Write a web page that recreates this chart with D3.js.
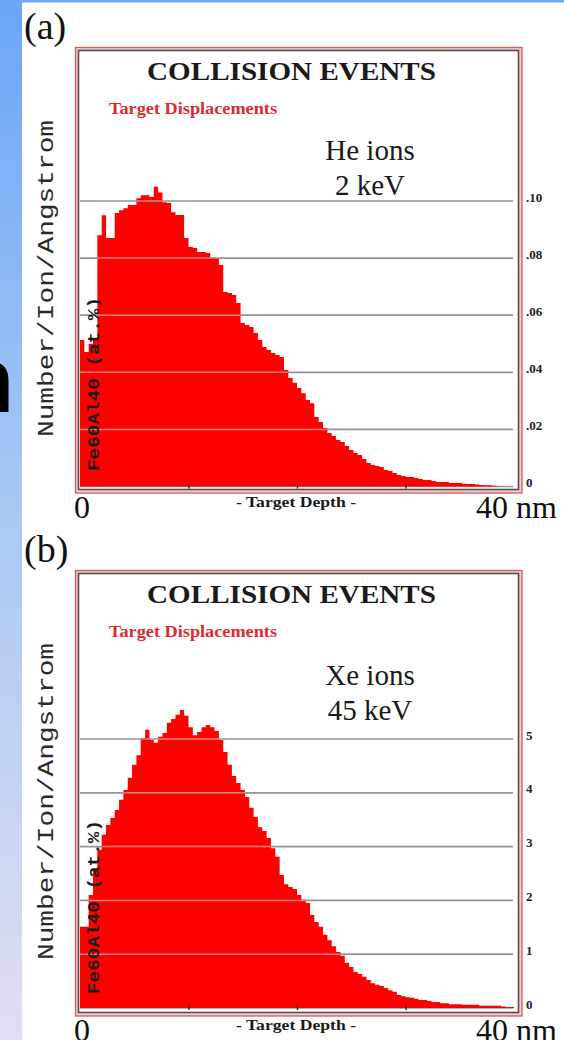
<!DOCTYPE html>
<html><head><meta charset="utf-8">
<script src="https://cdn.jsdelivr.net/npm/d3@7"></script>
<style>html,body{margin:0;padding:0;background:#fff;} svg{display:block}</style>
</head><body>
<svg id="c" width="564" height="1040"></svg>
<script>
// ---------------- data ----------------
const panelLabels = ["(a)", "(b)"];
const chartTitle = "COLLISION EVENTS";
const subTitle = "Target Displacements";
const ionLabels = ["He ions", "Xe ions"];
const energyLabels = ["2 keV", "45 keV"];
const yAxisLabel = "Number/Ion/Angstrom";
const targetLabel = "Fe60Al40 (at.%)";
const xAxisLabel = "- Target Depth -";
const xStartLabel = "0";
const xEndLabel = "40 nm";
const depthDomain = [0, 40];
const xTicks = [10, 20, 30];

// displacements per 0.4 nm bin (100 bins), He 2 keV
const heDisplacements = [
 0.0513,0.0471,0.0500,0.0520,0.0880,0.0950,0.0870,0.0870,0.0958,0.0968,
 0.0975,0.0986,0.0986,0.1010,0.1020,0.1020,0.1014,0.1050,0.1030,0.0996,
 0.0993,0.0961,0.0951,0.0951,0.0870,0.0839,0.0835,0.0821,0.0821,0.0818,
 0.0800,0.0800,0.0776,0.0681,0.0678,0.0671,0.0643,0.0573,0.0566,0.0559,
 0.0538,0.0513,0.0489,0.0478,0.0468,0.0461,0.0454,0.0408,0.0380,0.0363,
 0.0345,0.0327,0.0303,0.0292,0.0243,0.0226,0.0205,0.0187,0.0177,0.0163,
 0.0156,0.0142,0.0128,0.0117,0.0110,0.0096,0.0082,0.0075,0.0072,0.0068,
 0.0058,0.0054,0.0047,0.0040,0.0037,0.0033,0.0033,0.0030,0.0026,0.0023,
 0.0023,0.0019,0.0016,0.0016,0.0016,0.0012,0.0012,0.0012,0.0010,0.0009,
 0.0009,0.0007,0.0005,0.0004,0.0004,0.0003,0,0,0,0
];
// displacements per 0.4 nm bin (100 bins), Xe 45 keV
const xeDisplacements = [
 1.51,1.51,2.10,2.57,2.94,3.22,3.40,3.53,3.68,3.87,
 4.05,4.28,4.52,4.70,5.02,5.17,4.98,4.93,5.04,5.11,
 5.30,5.37,5.45,5.54,5.43,5.22,5.07,5.13,5.22,5.26,
 5.22,5.15,4.98,4.76,4.52,4.31,4.18,4.05,3.92,3.72,
 3.55,3.36,3.29,3.16,2.97,2.81,2.47,2.30,2.25,2.21,
 2.10,2.01,1.95,1.73,1.60,1.51,1.36,1.26,1.15,1.04,
 0.97,0.84,0.76,0.67,0.63,0.58,0.52,0.46,0.43,0.41,
 0.37,0.33,0.30,0.24,0.22,0.20,0.19,0.17,0.15,0.15,
 0.13,0.11,0.11,0.09,0.09,0.07,0.07,0.07,0.06,0.06,
 0.06,0.06,0.04,0.04,0.04,0.04,0.04,0.03,0.02,0.02
];
const heTicks = [0, 0.02, 0.04, 0.06, 0.08, 0.10];
const heTickLabels = ["0", ".02", ".04", ".06", ".08", ".10"];
const xeTicks = [0, 1, 2, 3, 4, 5];
const xeTickLabels = ["0", "1", "2", "3", "4", "5"];

// ---------------- drawing ----------------
const svg = d3.select("#c");
const defs = svg.append("defs");
const grad = defs.append("linearGradient").attr("id","side").attr("x1",0).attr("y1",0).attr("x2",0).attr("y2",1);
grad.append("stop").attr("offset","0%").attr("stop-color","#6aa5f7");
grad.append("stop").attr("offset","45%").attr("stop-color","#a3c6f3");
grad.append("stop").attr("offset","100%").attr("stop-color","#e0def2");

svg.append("rect").attr("x",0).attr("y",0).attr("width",564).attr("height",1040).attr("fill","#fff");
svg.append("rect").attr("x",0).attr("y",0).attr("width",22).attr("height",1040).attr("fill","url(#side)");
svg.append("rect").attr("x",0).attr("y",0).attr("width",564).attr("height",2.5).attr("fill","#6fa8f8");
svg.append("text").attr("x",-42).attr("y",412).attr("font-family","Liberation Sans").attr("font-weight","bold")
  .attr("font-size",92).attr("fill","#000").text("n");

const serif = "Liberation Serif";
const panels = [
  {dy:0, values:heDisplacements, ticks:heTicks, tickLabels:heTickLabels, y0:486.5, yTop:201, i:0},
  {dy:523, values:xeDisplacements, ticks:xeTicks, tickLabels:xeTickLabels, y0:1008, yTop:739, i:1}
];

panels.forEach(p => {
  const g = svg.append("g");
  const dy = p.dy;
  // panel label
  g.append("text").attr("x",24).attr("y",39+dy).attr("font-family",serif).attr("font-size",38)
    .attr("fill","#111").text(panelLabels[p.i]);
  // frame
  g.append("rect").attr("x",75.5).attr("y",47.5+dy).attr("width",446.5).attr("height",445.5)
    .attr("fill","#f4cccc").attr("stroke","#d65a5a").attr("stroke-width",1.3);
  g.append("rect").attr("x",78.5).attr("y",50.5+dy).attr("width",440).attr("height",439)
    .attr("fill","#fff").attr("stroke","#505050").attr("stroke-width",1.6);

  const x = d3.scaleLinear().domain(depthDomain).range([80, 514]);
  const y = d3.scaleLinear().domain([p.ticks[0], p.ticks[p.ticks.length-1]]).range([p.y0, p.yTop]);
  const binW = (depthDomain[1]-depthDomain[0]) / p.values.length;
  const pts = p.values.map((v,k)=>({d:k*binW, v}));
  pts.push({d:depthDomain[1], v:p.values[p.values.length-1]});

  // gridlines under
  const grid = g.append("g");
  grid.selectAll("line").data(p.ticks).join("line")
    .attr("x1",80).attr("x2",513).attr("y1",d=>y(d)).attr("y2",d=>y(d))
    .attr("stroke","#959595").attr("stroke-width",1.7);

  const area = d3.area().curve(d3.curveStepAfter).x(d=>x(d.d)).y0(y(0)).y1(d=>y(d.v));
  const clipId = "clip"+p.i;
  defs.append("clipPath").attr("id",clipId).append("path").attr("d",area(pts));
  g.append("path").attr("d",area(pts)).attr("fill","#ff0000");
  // gridlines seen through the fill
  g.append("g").attr("clip-path",`url(#${clipId})`).selectAll("line").data(p.ticks.slice(1)).join("line")
    .attr("x1",80).attr("x2",513).attr("y1",d=>y(d)).attr("y2",d=>y(d))
    .attr("stroke","#e98080").attr("stroke-width",1.5);

  // x ticks
  const xa = g.append("g").attr("transform",`translate(0,${p.y0+2})`)
    .call(d3.axisTop(x).tickValues(xTicks).tickSize(5).tickFormat(""));
  xa.select(".domain").remove();
  xa.selectAll("line").attr("stroke","#333").attr("stroke-width",1.5);

  // right axis labels
  const ya = g.append("g").attr("transform",`translate(522,-4)`)
    .call(d3.axisRight(y).tickValues(p.ticks).tickSize(0).tickPadding(4)
      .tickFormat((d,k)=>p.tickLabels[k]));
  ya.select(".domain").remove();
  ya.selectAll("text").attr("font-family",serif).attr("font-weight","bold").attr("font-size",13).attr("fill","#222");

  // titles
  g.append("text").attr("x",147).attr("y",80+dy).attr("font-family",serif).attr("font-weight","bold")
    .attr("font-size",25).attr("fill","#1a1a1a").attr("textLength",289).attr("lengthAdjust","spacingAndGlyphs").text(chartTitle);
  g.append("text").attr("x",109).attr("y",114+dy).attr("font-family",serif).attr("font-weight","bold")
    .attr("font-size",16.5).attr("fill","#dd2a30").attr("textLength",168).attr("lengthAdjust","spacingAndGlyphs").text(subTitle);
  const tdy = p.i===0 ? 0 : 2;
  g.append("text").attr("x",370).attr("y",160+dy+tdy).attr("text-anchor","middle").attr("font-family",serif)
    .attr("font-size",29).attr("fill","#1a1a1a").text(ionLabels[p.i]);
  g.append("text").attr("x",370).attr("y",195+dy+tdy).attr("text-anchor","middle").attr("font-family",serif)
    .attr("font-size",29).attr("fill","#1a1a1a").text(energyLabels[p.i]);

  // y-axis label (left, rotated)
  g.append("text").attr("transform",`translate(53,${437+dy}) rotate(-90)`).attr("font-family","Liberation Mono")
    .attr("font-size",22).attr("fill","#2a2a2a").attr("textLength",317).attr("lengthAdjust","spacingAndGlyphs").text(yAxisLabel);
  // target label (inside plot)
  g.append("text").attr("transform",`translate(99,${471+dy}) rotate(-90)`).attr("font-family","Liberation Mono")
    .attr("font-weight","bold").attr("font-size",17).attr("fill","#1a1a1a")
    .attr("textLength",174).attr("lengthAdjust","spacingAndGlyphs").text(targetLabel);

  // bottom labels
  g.append("text").attr("x",74).attr("y",518+dy).attr("font-family",serif).attr("font-size",32).attr("fill","#111").text(xStartLabel);
  g.append("text").attr("x",476).attr("y",518+dy).attr("font-family",serif).attr("font-size",32).attr("fill","#111").text(xEndLabel);
  g.append("text").attr("x",296).attr("y",507+dy).attr("text-anchor","middle").attr("font-family",serif)
    .attr("font-weight","bold").attr("font-size",15).attr("fill","#1a1a1a")
    .attr("textLength",120).attr("lengthAdjust","spacingAndGlyphs").text(xAxisLabel);
});
</script>
</body></html>
